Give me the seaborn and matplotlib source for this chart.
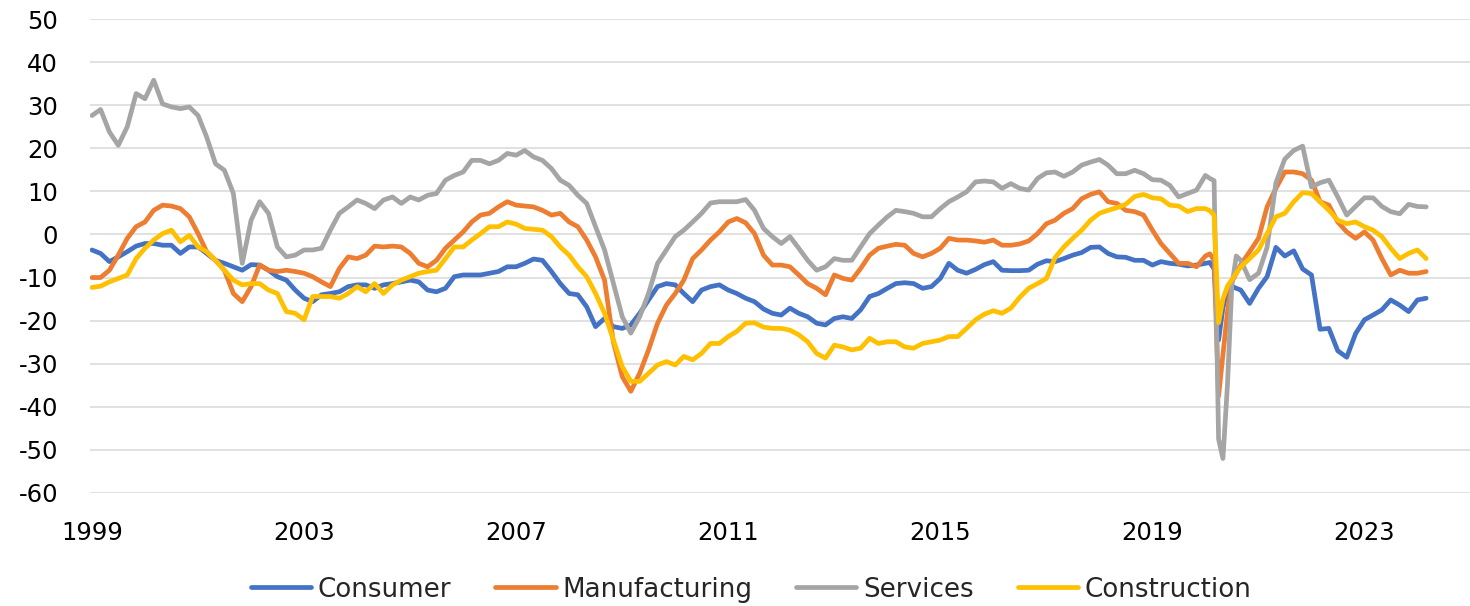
import matplotlib

matplotlib.use("Agg")
import matplotlib.pyplot as plt
import pandas as pd
import seaborn as sns


SERIES = ["Consumer", "Manufacturing", "Services", "Construction"]
COLORS = ["#4472C4", "#ED7D31", "#A5A5A5", "#FFC000"]
YEAR_TICKS = [1999, 2003, 2007, 2011, 2015, 2019, 2023]

# bi-monthly readings, monthly around the 2020 collapse
DATES = (
    pd.date_range("1999-01-01", "2020-01-01", freq="2MS")
    .append(pd.date_range("2020-02-01", "2020-08-01", freq="MS"))
    .append(pd.date_range("2020-09-01", "2024-03-01", freq="2MS"))
)

CONSUMER = [
    -3.6, -4.4, -6.3, -5.2, -4.0, -2.7, -2.1, -2.1, -2.5, -2.5, -4.4, -2.9,
    -2.9, -4.4, -6.0, -6.7, -7.5, -8.3, -7.0, -7.1, -8.3, -9.8, -10.6, -12.9,
    -14.8, -15.6, -14.0, -13.7, -13.3, -12.1, -11.7, -11.7, -12.5, -11.7, -11.4, -11.0,
    -10.6, -11.0, -12.9, -13.3, -12.5, -9.8, -9.4, -9.4, -9.4, -9.0, -8.6, -7.5,
    -7.5, -6.7, -5.7, -6.0, -8.6, -11.4, -13.7, -14.0, -16.8, -21.4, -19.5, -21.4,
    -21.8, -21.0, -18.3, -15.2, -12.1, -11.4, -11.7, -13.7, -15.6, -12.9, -12.1, -11.7,
    -12.9, -13.7, -14.8, -15.6, -17.3, -18.3, -18.7, -17.1, -18.3, -19.1, -20.6, -21.0,
    -19.5, -19.1, -19.5, -17.5, -14.4, -13.7, -12.5, -11.4, -11.2, -11.4, -12.5, -12.1,
    -10.2, -6.7, -8.3, -9.0, -8.1, -7.0, -6.3, -8.3, -8.4, -8.4, -8.3, -6.9,
    -6.1, -6.3, -5.6, -4.8, -4.2, -3.0, -2.9, -4.4, -5.2, -5.3, -6.0, -6.0,
    -7.1, -6.3, -6.7, -6.9, -7.3, -7.1, -6.7,
    -6.5, -8.0, -24.5, -17.0, -13.0, -12.0, -12.5,
    -12.9, -16.0, -12.5, -9.8, -3.0, -5.0, -3.8, -8.0, -9.4, -22.0, -21.8,
    -27.0, -28.5, -23.0, -19.8, -18.7, -17.5, -15.2, -16.4, -17.9, -15.2, -14.8,
]

MANUFACTURING = [
    -10.0, -10.0, -8.3, -4.8, -0.9, 1.8, 2.9, 5.6, 6.8, 6.6, 6.0, 4.1,
    0.2, -4.0, -6.0, -8.3, -13.7, -15.6, -12.1, -7.1, -8.3, -8.6, -8.3, -8.6,
    -9.0, -9.8, -11.0, -12.1, -7.9, -5.2, -5.6, -4.8, -2.7, -2.9, -2.7, -2.9,
    -4.4, -6.7, -7.5, -6.0, -3.2, -1.3, 0.6, 2.9, 4.5, 4.9, 6.4, 7.6,
    6.8, 6.6, 6.4, 5.6, 4.5, 4.9, 2.9, 1.8, -1.3, -5.2, -10.6, -25.0,
    -33.0, -36.4, -32.2, -26.8, -20.6, -16.4, -13.7, -10.6, -5.6, -3.6, -1.3, 0.6,
    2.9, 3.7, 2.7, 0.2, -4.8, -7.1, -7.1, -7.5, -9.4, -11.4, -12.5, -14.0,
    -9.4, -10.2, -10.6, -7.9, -4.8, -3.2, -2.7, -2.3, -2.5, -4.4, -5.2, -4.4,
    -3.2, -0.9, -1.3, -1.3, -1.5, -1.8, -1.3, -2.5, -2.5, -2.2, -1.5, 0.2,
    2.5, 3.3, 4.9, 6.0, 8.3, 9.3, 9.9, 7.6, 7.2, 5.6, 5.3, 4.5,
    1.0, -2.1, -4.4, -6.7, -6.7, -7.5, -5.0,
    -4.5, -6.0, -37.5, -28.0, -18.0, -11.0, -9.0,
    -7.0, -4.0, -0.9, 6.4, 10.7, 14.5, 14.5, 14.1, 12.6, 7.6, 6.8,
    2.9, 0.6, -0.9, 0.6, -1.3, -5.6, -9.4, -8.3, -9.0, -9.0, -8.6,
]

SERVICES = [
    27.6, 29.0, 23.8, 20.7, 25.0, 32.7, 31.5, 35.8, 30.3, 29.6, 29.2, 29.6,
    27.6, 22.6, 16.4, 14.9, 9.5, -6.7, 3.3, 7.6, 4.9, -2.9, -5.2, -4.8,
    -3.6, -3.6, -3.2, 1.0, 4.9, 6.4, 8.0, 7.2, 6.0, 8.0, 8.7, 7.2,
    8.7, 8.0, 9.1, 9.5, 12.6, 13.7, 14.5, 17.2, 17.2, 16.4, 17.2, 18.8,
    18.4, 19.5, 18.0, 17.2, 15.3, 12.6, 11.4, 9.1, 7.2, 1.8, -3.6, -11.4,
    -19.1, -22.9, -19.1, -13.7, -6.7, -3.6, -0.5, 1.0, 2.9, 4.9, 7.3, 7.6,
    7.6, 7.6, 8.1, 5.6, 1.4, -0.5, -2.1, -0.5, -3.2, -6.0, -8.3, -7.5,
    -5.6, -6.0, -6.0, -2.9, 0.2, 2.2, 4.1, 5.6, 5.3, 4.9, 4.1, 4.1,
    6.0, 7.6, 8.7, 9.9, 12.2, 12.4, 12.2, 10.7, 11.8, 10.7, 10.3, 13.0,
    14.3, 14.5, 13.5, 14.5, 16.1, 16.8, 17.4, 16.1, 14.1, 14.1, 14.9, 14.1,
    12.7, 12.6, 11.4, 8.7, 9.5, 10.3, 13.7,
    13.0, 12.5, -47.5, -52.0, -35.0, -12.0, -5.0,
    -6.0, -10.5, -9.0, -3.0, 12.0, 17.5, 19.5, 20.5, 11.0, 12.0, 12.6,
    8.7, 4.5, 6.5, 8.5, 8.5, 6.5, 5.3, 4.8, 7.0, 6.5, 6.4,
]

CONSTRUCTION = [
    -12.3, -12.0, -11.0, -10.2, -9.4, -5.6, -3.2, -1.3, 0.2, 1.0, -1.7, -0.2,
    -2.9, -4.0, -6.0, -8.3, -10.6, -11.7, -11.4, -11.4, -12.9, -13.7, -17.9, -18.3,
    -19.8, -14.4, -14.4, -14.4, -14.8, -13.7, -12.1, -13.3, -11.4, -13.7, -11.7, -10.6,
    -9.8, -9.0, -8.6, -8.3, -5.6, -2.9, -2.9, -1.3, 0.2, 1.8, 1.8, 2.9,
    2.4, 1.4, 1.2, 1.0, -0.5, -2.9, -4.8, -7.5, -9.8, -13.7, -18.3, -24.5,
    -30.7, -34.1, -34.1, -32.2, -30.3, -29.5, -30.3, -28.3, -29.1, -27.6, -25.3, -25.3,
    -23.7, -22.5, -20.6, -20.5, -21.5, -21.8, -21.8, -22.2, -23.3, -24.9, -27.6, -28.7,
    -25.7, -26.1, -26.8, -26.4, -24.1, -25.3, -24.9, -24.9, -26.1, -26.4, -25.3, -24.9,
    -24.5, -23.7, -23.7, -21.8, -19.8, -18.5, -17.7, -18.3, -17.1, -14.6, -12.5, -11.4,
    -10.2, -5.4, -2.9, -0.9, 1.0, 3.3, 4.9, 5.6, 6.2, 7.0, 8.8, 9.3,
    8.5, 8.3, 6.8, 6.6, 5.3, 6.0, 6.0,
    5.5, 4.5, -20.5, -15.0, -12.0, -10.5, -9.0,
    -7.5, -5.6, -3.6, 0.2, 4.1, 4.9, 7.6, 9.7, 9.5, 7.6, 5.6,
    3.3, 2.5, 2.9, 1.8, 1.0, -0.5, -3.2, -5.6, -4.4, -3.6, -5.6,
]


def build_frame() -> pd.DataFrame:
    wide = pd.DataFrame(
        {
            "Consumer": CONSUMER,
            "Manufacturing": MANUFACTURING,
            "Services": SERVICES,
            "Construction": CONSTRUCTION,
        },
        index=DATES,
    )
    wide.index.name = "date"
    return wide.reset_index().melt(id_vars="date", var_name="series", value_name="value")


def main() -> None:
    frame = build_frame()
    sns.set_theme(style="whitegrid")
    plt.rcParams["font.family"] = ["DejaVu Sans"]
    plt.rcParams["axes.unicode_minus"] = False

    fig = plt.figure(figsize=(14.7, 6.06), dpi=100)
    ax = fig.add_axes([0.0612, 0.1865, 0.9388, 0.7821])
    sns.lineplot(
        data=frame,
        x="date",
        y="value",
        hue="series",
        hue_order=SERIES,
        palette=COLORS,
        linewidth=3.4,
        estimator=None,
        ax=ax,
    )

    ax.set_ylim(-60, 50)
    ax.set_yticks(range(-60, 51, 10))
    ax.set_xlim(pd.Timestamp("1998-12-18"), pd.Timestamp("2024-12-28"))
    ax.set_xticks([pd.Timestamp(f"{y}-01-01") for y in YEAR_TICKS])
    ax.set_xticklabels([str(y) for y in YEAR_TICKS])
    ax.set_xlabel("")
    ax.set_ylabel("")
    ax.grid(axis="x", visible=False)
    ax.grid(axis="y", color="#D9D9D9", linewidth=1.1)
    ax.set_facecolor("white")
    for spine in ax.spines.values():
        spine.set_visible(False)
    ax.tick_params(axis="y", labelsize=17.5, pad=23, length=0, colors="black")
    ax.tick_params(axis="x", labelsize=17.5, pad=20, length=0, colors="black")

    handles, labels = ax.get_legend_handles_labels()
    ax.get_legend().remove()
    fig.legend(
        handles,
        labels,
        loc="center",
        bbox_to_anchor=(0.511, 0.027),
        ncol=4,
        frameon=False,
        fontsize=18.8,
        handlelength=2.3,
        handletextpad=0.25,
        columnspacing=1.7,
    )

    fig.savefig("out.png", dpi=100, facecolor="white")
    plt.close(fig)


if __name__ == "__main__":
    main()
